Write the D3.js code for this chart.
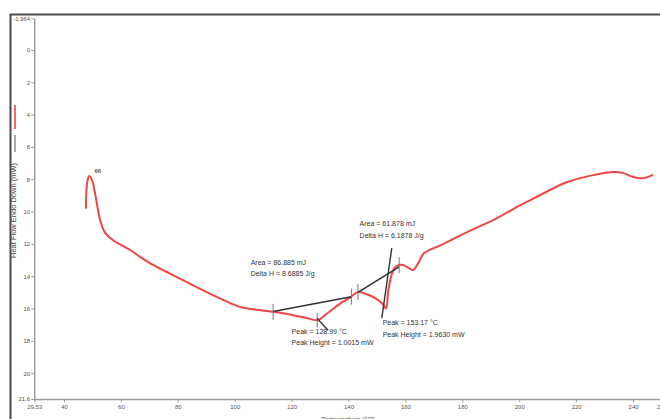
<!DOCTYPE html>
<html>
<head>
<meta charset="utf-8">
<script src="https://cdn.jsdelivr.net/npm/d3@7"></script>
<style>
  html, body { margin: 0; padding: 0; background: #fff; }
  svg { display: block; }
  text { font-family: "Liberation Sans", Arial, sans-serif; }
</style>
</head>
<body>
<svg id="chart" width="660" height="419"></svg>
<script>
// DSC heating scan: heat flow (endo down) against temperature
const temperature = [47.7, 47.9, 48.3, 48.9, 49.85, 50.9, 52.7, 54.4, 57.9, 62.5, 67.4, 70.2, 81.8, 93.8, 101.9, 107, 111.4, 114.2, 120.5, 125, 128.99, 132.7, 137.3, 140.8, 143.3, 145.4, 149.4, 152.2, 153.17, 154.0, 155.1, 156.1, 157.8, 159.2, 161.3, 162.7, 164.5, 166.6, 172.5, 182.0, 191.9, 200.4, 205.0, 216.9, 226.1, 233.1, 236.6, 240.1, 243.6, 246.8];
const heatFlow = [9.78, 8.7, 8.05, 7.8, 8.05, 8.85, 10.53, 11.3, 11.85, 12.3, 12.88, 13.19, 14.24, 15.29, 15.91, 16.06, 16.16, 16.22, 16.41, 16.57, 16.72, 16.28, 15.67, 15.29, 14.98, 15.05, 15.36, 15.75, 16.0, 14.86, 13.93, 13.5, 13.31, 13.31, 13.5, 13.62, 13.19, 12.57, 12.07, 11.24, 10.43, 9.6, 9.19, 8.17, 7.74, 7.55, 7.62, 7.86, 7.93, 7.74];

// axis ticks
const xTicks = [29.53, 40, 60, 80, 100, 120, 140, 160, 180, 200, 220, 240, 250];
const xTickLabels = ["29.53", "40", "60", "80", "100", "120", "140", "160", "180", "200", "220", "240", "250"];
const yTicks = [-1.964, 0, 2, 4, 6, 8, 10, 12, 14, 16, 18, 20, 21.6];
const yTickLabels = ["-1.964", "0", "2", "4", "6", "8", "10", "12", "14", "16", "18", "20", "21.6"];

// integration baselines [T1, HF1, T2, HF2]
const baselines = [[113.5, 16.18, 141.0, 15.27], [143.3, 15.0, 157.8, 13.42]];
// limit markers placed on the curve
const limitTemps = [113.5, 141.0, 143.3, 157.8];
// peak leader lines [T1, HF1, T2, HF2]
const peakLeaders = [[129.0, 16.62, 132.8, 17.34], [151.7, 16.6, 155.2, 12.26]];
// annotation texts: anchor temperature, anchor heat flow, lines
const notes = [
  { t: 105.6, hf: 13.3, lines: ["Area = 86.885 mJ", "Delta H = 8.6885 J/g"] },
  { t: 120.0, hf: 17.55, lines: ["Peak = 128.99 °C", "Peak Height = 1.0015 mW"] },
  { t: 143.9, hf: 10.92, lines: ["Area = 61.878 mJ", "Delta H = 6.1878 J/g"] },
  { t: 152.0, hf: 17.05, lines: ["Peak = 153.17 °C", "Peak Height = 1.9630 mW"] }
];
const pointLabel = { t: 50.7, hf: 7.62, text: "66" };

const svg = d3.select("#chart");
const x = d3.scaleLinear().domain([29.53, 250]).range([34.2, 661.5]);
const y = d3.scaleLinear().domain([-1.964, 21.6]).range([18.3, 399]);

// outer frame
svg.append("path").attr("d", "M10.5,419 V14.5 H662")
  .attr("fill", "none").attr("stroke", "#4a4a4a").attr("stroke-width", 2);

// axes
const axisColor = "#9a9a9a";
const yAxis = svg.append("g").attr("transform", `translate(${x(29.53)},0)`)
  .call(d3.axisLeft(y).tickValues(yTicks).tickSize(3).tickSizeOuter(0)
    .tickFormat((d, i) => yTickLabels[i]));
const xAxis = svg.append("g").attr("transform", `translate(0,${y(21.6)})`)
  .call(d3.axisBottom(x).tickValues(xTicks).tickSize(3).tickSizeOuter(0)
    .tickFormat((d, i) => xTickLabels[i]));
[yAxis, xAxis].forEach(g => {
  g.select(".domain").attr("stroke", axisColor).attr("stroke-width", 1.4);
  g.selectAll(".tick line").attr("stroke", axisColor);
  g.selectAll(".tick text").attr("fill", "#555").attr("font-size", 6)
    .attr("font-family", "'Liberation Sans Narrow', 'Liberation Sans', Arial, sans-serif");
});
yAxis.selectAll(".tick text").attr("x", -4);
xAxis.selectAll(".tick text").attr("y", 6);

// axis titles
svg.append("text").attr("transform", "translate(16,258) rotate(-90)")
  .attr("font-size", 7.5).attr("fill", "#444").text("Heat Flow Endo Down (mW)");
svg.append("text").attr("x", 348).attr("y", 422).attr("text-anchor", "middle")
  .attr("font-size", 7).attr("fill", "#555").text("Temperature (°C)");

// legend swatches
svg.append("line").attr("x1", 15).attr("x2", 15).attr("y1", 105).attr("y2", 129)
  .attr("stroke", "#f04545").attr("stroke-width", 1.6);
svg.append("line").attr("x1", 15).attr("x2", 15).attr("y1", 135).attr("y2", 152)
  .attr("stroke", "#555").attr("stroke-width", 1);

// curve
const pts = temperature.map((t, i) => [t, heatFlow[i]]);
const line = d3.line().x(d => x(d[0])).y(d => y(d[1])).curve(d3.curveCatmullRom.alpha(0.5));
svg.append("path").datum(pts).attr("d", line)
  .attr("fill", "none").attr("stroke", "#f04545").attr("stroke-width", 2)
  .attr("stroke-linejoin", "round").attr("stroke-linecap", "round");

// baselines
svg.selectAll(".base").data(baselines).join("line")
  .attr("x1", d => x(d[0])).attr("y1", d => y(d[1]))
  .attr("x2", d => x(d[2])).attr("y2", d => y(d[3]))
  .attr("stroke", "#333").attr("stroke-width", 1.6);

// limit markers
const hfAt = t => {
  const i = d3.bisectLeft(temperature, t);
  const t0 = temperature[i - 1], t1 = temperature[i];
  return heatFlow[i - 1] + (heatFlow[i] - heatFlow[i - 1]) * (t - t0) / (t1 - t0);
};
svg.selectAll(".lim").data(limitTemps).join("line")
  .attr("x1", d => x(d)).attr("x2", d => x(d))
  .attr("y1", d => y(hfAt(d)) - 8).attr("y2", d => y(hfAt(d)) + 8)
  .attr("stroke", "#777").attr("stroke-width", 1);
// marker at first peak
svg.append("line").attr("x1", x(128.99)).attr("x2", x(128.99))
  .attr("y1", y(16.72) - 7).attr("y2", y(16.72) + 7)
  .attr("stroke", "#777").attr("stroke-width", 1);

// peak leaders
svg.selectAll(".lead").data(peakLeaders).join("line")
  .attr("x1", d => x(d[0])).attr("y1", d => y(d[1]))
  .attr("x2", d => x(d[2])).attr("y2", d => y(d[3]))
  .attr("stroke", "#333").attr("stroke-width", 1.4);

// annotation texts
notes.forEach(n => {
  const g = svg.append("text").attr("font-size", 7).attr("fill", "#333");
  n.lines.forEach((s, i) => {
    g.append("tspan").attr("x", x(n.t)).attr("y", y(n.hf) + i * 11.5).text(s);
  });
});
svg.append("text").attr("x", x(pointLabel.t)).attr("y", y(pointLabel.hf))
  .attr("font-size", 6).attr("font-weight", "bold").attr("fill", "#555").text(pointLabel.text);
</script>
</body>
</html>
